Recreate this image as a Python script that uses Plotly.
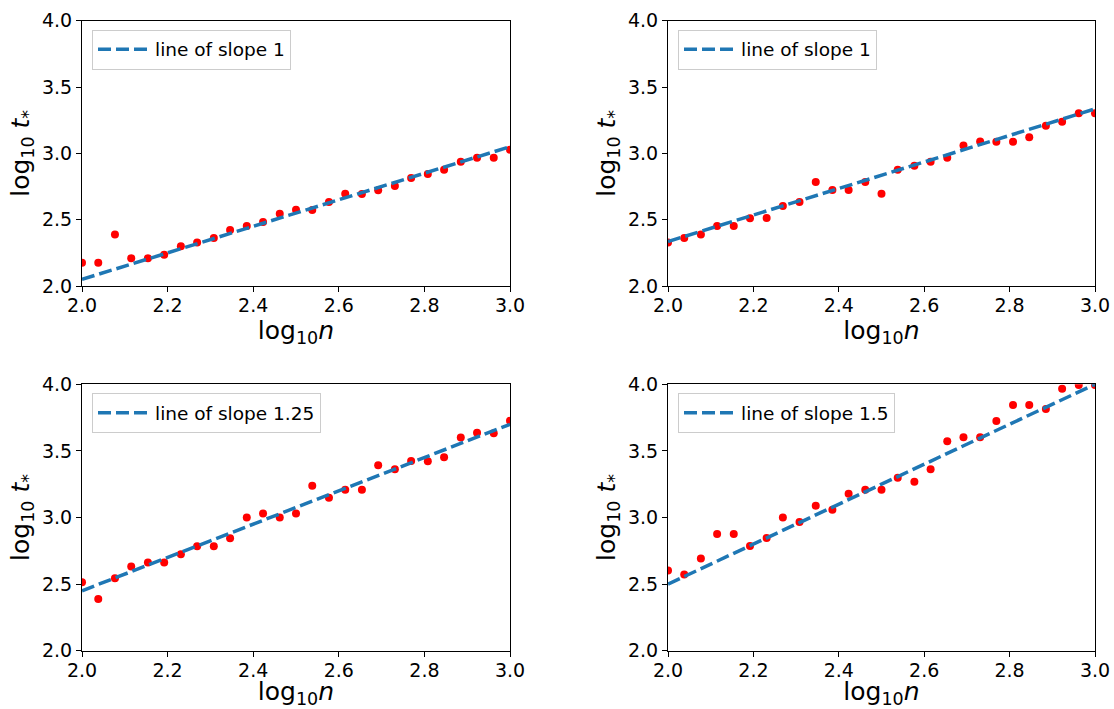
import plotly.graph_objects as go

# log10 n sample positions shared by all four panels
log_n = [2.000, 2.038, 2.077, 2.115, 2.154, 2.192, 2.231, 2.269, 2.308,
         2.346, 2.385, 2.423, 2.462, 2.500, 2.538, 2.577, 2.615, 2.654,
         2.692, 2.731, 2.769, 2.808, 2.846, 2.885, 2.923, 2.962, 3.000]

# measured log10 t* in each panel
t_a = [2.176, 2.176, 2.389, 2.209, 2.209, 2.236, 2.299, 2.327, 2.362,
       2.422, 2.452, 2.482, 2.545, 2.575, 2.573, 2.633, 2.696, 2.693,
       2.721, 2.754, 2.814, 2.844, 2.877, 2.937, 2.967, 2.967, 3.028]
t_b = [2.327, 2.362, 2.389, 2.452, 2.452, 2.510, 2.513, 2.603, 2.633,
       2.784, 2.724, 2.724, 2.784, 2.696, 2.877, 2.907, 2.937, 2.967,
       3.060, 3.090, 3.088, 3.088, 3.121, 3.209, 3.239, 3.302, 3.302]
t_c = [2.513, 2.389, 2.543, 2.633, 2.663, 2.663, 2.724, 2.784, 2.784,
       2.844, 3.000, 3.030, 3.000, 3.030, 3.239, 3.148, 3.209, 3.209,
       3.392, 3.362, 3.425, 3.422, 3.452, 3.601, 3.636, 3.633, 3.726]
t_d = [2.603, 2.573, 2.693, 2.877, 2.877, 2.786, 2.847, 3.000, 2.967,
       3.088, 3.058, 3.178, 3.209, 3.209, 3.299, 3.269, 3.362, 3.573,
       3.603, 3.603, 3.724, 3.844, 3.844, 3.814, 3.967, 3.995, 3.995]

# reference lines: slopes (as labelled) and intercepts
slopes = [1, 1, 1.25, 1.5]
slope_labels = ["1", "1", "1.25", "1.5"]
intercepts = [0.05, 0.335, -0.05, -0.5]

x_ticks = [2.0, 2.2, 2.4, 2.6, 2.8, 3.0]
y_ticks = [2.0, 2.5, 3.0, 3.5, 4.0]

W, H = 1114, 709
FONT = "DejaVu Sans"

# panel rectangles in pixels: (left, right, top, bottom)
panels = [(82, 510, 20.7, 286), (668, 1095, 20.7, 286),
          (82, 510, 384.3, 650.7), (668, 1095, 384.3, 650.7)]

series = [t_a, t_b, t_c, t_d]
fig = go.Figure()
layout = dict(width=W, height=H, margin=dict(l=0, r=0, t=0, b=0),
              paper_bgcolor="white", plot_bgcolor="white",
              font=dict(family=FONT, size=18, color="black"),
              showlegend=True)

for k, ((l, r, t, b), ys) in enumerate(zip(panels, series)):
    sfx = "" if k == 0 else str(k + 1)
    xa, ya = "x" + sfx, "y" + sfx
    leg = "legend" + sfx

    fig.add_trace(go.Scatter(
        x=log_n, y=ys, mode="markers", xaxis=xa, yaxis=ya,
        marker=dict(color="red", size=8, line=dict(width=0)),
        showlegend=False, cliponaxis=True))

    xs = [2.0, 3.0]
    line_y = [slopes[k] * v + intercepts[k] for v in xs]
    fig.add_trace(go.Scatter(
        x=xs, y=line_y, mode="lines", xaxis=xa, yaxis=ya,
        line=dict(color="#1f77b4", width=3.5, dash="13px,5px"),
        name="line of slope " + slope_labels[k], legend=leg))

    axis_common = dict(showgrid=False, zeroline=False, showline=True,
                       linecolor="black", linewidth=1, mirror=True,
                       ticks="outside", ticklen=5, tickwidth=1,
                       tickcolor="black", automargin=False,
                       tickfont=dict(family=FONT, size=19, color="black"))
    layout["xaxis" + sfx] = dict(
        axis_common, domain=[l / W, r / W], range=[2.0, 3.0],
        tickvals=x_ticks, ticktext=[f"{v:.1f}" for v in x_ticks],
        anchor=ya, ticklabelstandoff=-3,
        title=dict(text="log<sub>10</sub><i>n</i>", standoff=0,
                   font=dict(family=FONT, size=25, color="black")))
    layout["yaxis" + sfx] = dict(
        axis_common, domain=[1 - b / H, 1 - t / H], range=[2.0, 4.0],
        tickvals=y_ticks, ticktext=[f"{v:.1f}" for v in y_ticks],
        anchor=xa,
        title=dict(text="log<sub>10</sub> <i>t</i><sub>*</sub>", standoff=5,
                   font=dict(family=FONT, size=25, color="black")))
    layout[leg] = dict(
        x=(l + 10) / W, y=1 - (t + 9) / H, xanchor="left", yanchor="top",
        bgcolor="white", bordercolor="#cccccc", borderwidth=1,
        font=dict(family=FONT, size=18.5, color="black"),
        itemwidth=52, tracegroupgap=0)

fig.update_layout(**layout)
fig.write_html("out.html")
